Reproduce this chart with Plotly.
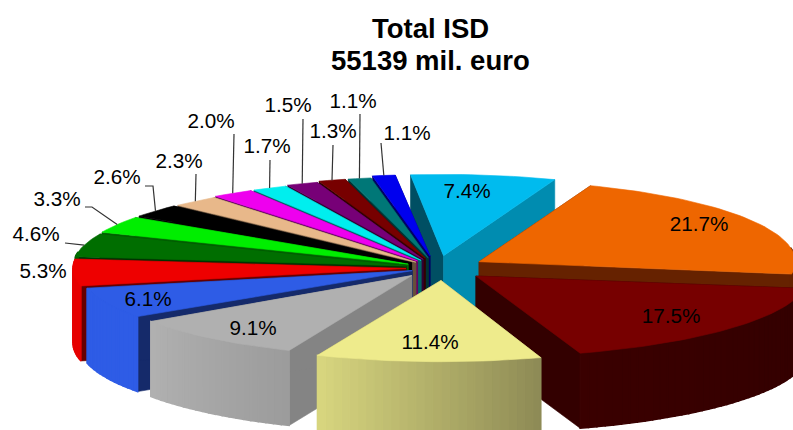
import math
import plotly.graph_objects as go

# --- data ---
shares = [7.4, 21.7, 17.5, 11.4, 9.1, 6.1, 5.3, 4.6, 3.3, 2.6, 2.3, 2.0, 1.7, 1.5, 1.3, 1.1, 1.1]
title_lines = ["Total ISD", "55139 mil. euro"]

# --- style ---
top_colors = ["#00bbee", "#ee6600", "#770000", "#eeeb8c", "#b0b0b0", "#2e5ce6", "#ee0000", "#006e00",
              "#00ee00", "#000000", "#e8b88a", "#ee00ee", "#00eeee", "#770077", "#770000", "#007777", "#0000ee"]
start_wall = ["#004f63", "#662200", "#330000", "#8d8a55", "#848484", "#152a6a", "#660000", "#003300",
              "#006600", "#000000", "#664f3a", "#660066", "#006666", "#330033", "#330000", "#003333", "#000066"]
end_wall = ["#008cb0", "#662200", "#330000", "#8d8a55", "#848484", "#152a6a", "#660000", "#003300",
            "#006600", "#000000", "#664f3a", "#660066", "#006666", "#330033", "#330000", "#003333", "#000066"]
arc_left = ["#008cb0", "#662200", "#3a0000", "#d8d67f", "#b0b0b0", "#2e5ce6", "#e60000", "#006000",
            "#00c000", "#000000", "#c09a70", "#c000c0", "#00c0c0", "#600060", "#600000", "#006060", "#0000c0"]
arc_right = ["#008cb0", "#662200", "#330000", "#8d8a55", "#9c9c9c", "#2e5ce6", "#e60000", "#006000",
             "#00c000", "#000000", "#c09a70", "#c000c0", "#00c0c0", "#600060", "#600000", "#006060", "#0000c0"]
pull = [51, 51, 51, 51, 40, 27, 31, 32, 33, 33, 32, 35, 35, 38, 42, 42, 50]
x_stretch = [0.948, 0.95, 1, 0.957, 0.95, 1, 1, 1, 1, 1, 1, 1, 1, 1, 1, 1, 1]
x_nudge = [0, -2, 0, 6, 0, 0, 0, 0, 0, 0, 0, 0, 0, 0, 0, 0, 0]
draw_order = [0, 16, 15, 14, 13, 12, 11, 10, 9, 8, 7, 6, 5, 4, 1, 2, 3]
label_xy = [(467, 193), (699, 226), (671, 318), (430, 344), (253, 330), (148, 301), (43, 273), (36, 236),
            (57, 201), (117, 179), (179, 163), (211, 123), (267, 148), (288, 107), (333, 133), (353, 103), (407, 135)]
# label-side points of the leader lines, by slice index
leader_pts = {7: [(65, 243)], 8: [(85, 207), (92, 207)], 9: [(145, 186), (153, 186)], 10: [(196, 174)],
              11: [(234, 134)], 12: [(270, 160)], 13: [(303, 119)], 14: [(333, 145)], 15: [(360, 114)], 16: [(381, 143)]}

CX, CY, R, K, DEPTH, START = 437, 268, 333, 0.244, 75, -6.0
W, H = 793, 430


def hex2rgb(c):
    return tuple(int(c[i:i + 2], 16) for i in (1, 3, 5))


def mix(a, b, t):
    a, b = hex2rgb(a), hex2rgb(b)
    return "rgb(%d,%d,%d)" % tuple(round(a[i] + (b[i] - a[i]) * t) for i in range(3))


def poly(fig, pts, color, lw=0.6):
    fig.add_trace(go.Scatter(x=[p[0] for p in pts] + [pts[0][0]], y=[p[1] for p in pts] + [pts[0][1]],
                             mode="lines", fill="toself", fillcolor=color,
                             line=dict(color=color, width=lw), hoverinfo="skip", showlegend=False))


total = sum(shares)
bounds = [START]
for v in shares:
    bounds.append(bounds[-1] + v / total * 360)

tips = []
for i in range(len(shares)):
    mid = (bounds[i] + bounds[i + 1]) / 2
    a = math.radians(mid)
    tips.append((CX + x_nudge[i] + pull[i] * math.sin(a), CY - pull[i] * K * math.cos(a)))


def rim(i, deg):
    a = math.radians(deg)
    return (tips[i][0] + R * x_stretch[i] * math.sin(a), tips[i][1] - R * K * math.cos(a))


fig = go.Figure()


def down(p):
    return (p[0], p[1] + DEPTH)


for i in draw_order:
    t0, t1, tip = bounds[i], bounds[i + 1], tips[i]
    # radial walls
    for deg, col in ((t0, start_wall[i]), (t1, end_wall[i])):
        c = rim(i, deg)
        poly(fig, [tip, c, down(c), down(tip)], col)
    # outer wall, split into strips for the gradient
    a0, a1 = max(t0, 80), min(t1, 280)
    if a1 > a0:
        n = max(1, int((a1 - a0) / 1.5))
        for j in range(n):
            d0 = a0 + (a1 - a0) * j / n
            d1 = a0 + (a1 - a0) * (j + 1) / n
            p0, p1 = rim(i, d0), rim(i, d1)
            poly(fig, [p0, p1, down(p1), down(p0)], mix(arc_right[i], arc_left[i], (j + 0.5) / n), lw=1.5)
    # top face
    steps = max(3, int((t1 - t0) / 1.5))
    arc = [rim(i, t0 + (t1 - t0) * j / steps) for j in range(steps + 1)]
    poly(fig, [tip] + arc, top_colors[i])

# leader lines
for i, pts in leader_pts.items():
    end = rim(i, (bounds[i] + bounds[i + 1]) / 2)
    path = pts + [end]
    fig.add_trace(go.Scatter(x=[p[0] for p in path], y=[p[1] for p in path], mode="lines",
                             line=dict(color="#333333", width=1.2), hoverinfo="skip", showlegend=False))

# percentage labels
fig.add_trace(go.Scatter(x=[p[0] for p in label_xy], y=[p[1] for p in label_xy], mode="text",
                         text=[f"{v:.1f}%" for v in shares], textposition="middle center",
                         textfont=dict(family="Liberation Sans", size=20.7, color="#000000"),
                         hoverinfo="skip", showlegend=False))

fig.update_layout(
    width=W, height=H, margin=dict(l=0, r=0, t=0, b=0), paper_bgcolor="white", plot_bgcolor="white",
    xaxis=dict(range=[0, W], visible=False, fixedrange=True),
    yaxis=dict(range=[H, 0], visible=False, fixedrange=True),
    annotations=[dict(x=430, y=y, xref="x", yref="y", text=f"<b>{t}</b>", showarrow=False,
                      font=dict(family="Liberation Sans", size=27.5, color="#000000"))
                 for t, y in zip(title_lines, (28, 60))],
)
fig.write_html("out.html", config={"displayModeBar": False},
               post_script="document.body.style.margin='0';document.body.style.overflow='hidden';")
